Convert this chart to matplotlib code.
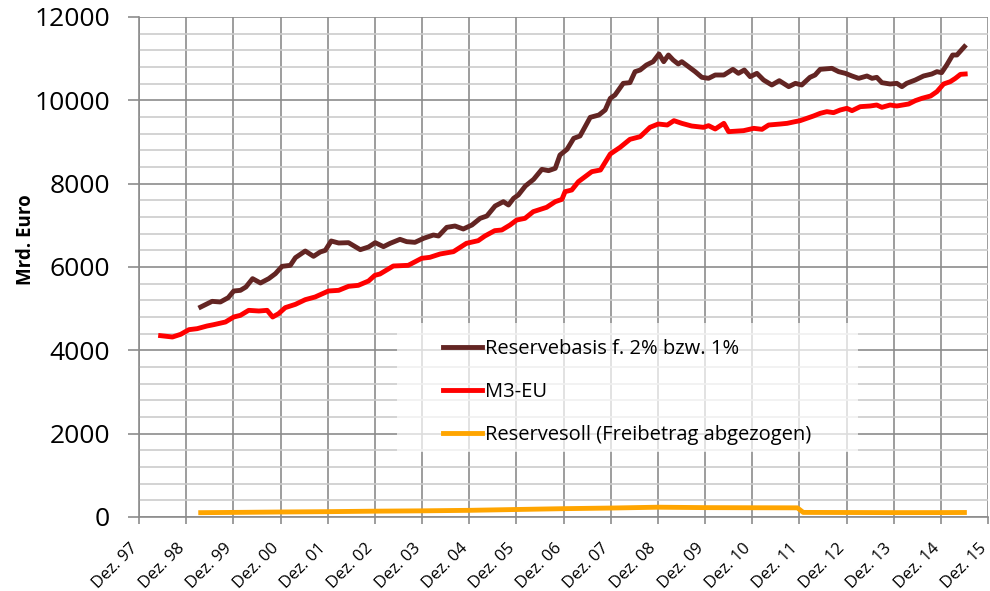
import matplotlib
matplotlib.use('Agg')
import matplotlib.pyplot as plt
from matplotlib.ticker import MultipleLocator
from matplotlib.patches import Rectangle
from matplotlib.transforms import ScaledTranslation

plt.rcParams['font.family'] = ['Open Sans', 'DejaVu Sans']

# months counted from Dez. 97
basis_m = [15.7, 18.6, 20.7, 22.7, 24.1, 25.8, 27.2, 28.9, 30.9, 33, 34.7, 36.4, 38.5, 39.8, 42.3,
           44.4, 46.1, 47.4, 48.9, 50.8, 53.3, 56.3, 58.4, 60.1, 62.2, 63.9, 66.4, 68.1, 70.2, 72.4,
           74.9, 76.2, 78.3, 80.4, 82.5, 84.7, 86.8, 88.5, 90.6, 92.7, 94, 95.3, 96.5, 98.3, 100.4,
           102.5, 104.2, 105.9, 107.1, 108.9, 110.6, 112.2, 114.8, 117, 118.6, 119.9, 121.1, 123.2,
           124.9, 126.2, 127.5, 129.1, 130.8, 132.3, 133.5, 134.7, 135.9, 137.2, 138.1, 139.8, 141.5,
           143.2, 144.9, 146.6, 148.8, 151.1, 152.5, 154, 155.5, 157.2, 158.9, 161, 162.9, 165.3, 167,
           168.6, 170.7, 172, 173.3, 176.3, 178, 179.7, 181.4, 183.1, 185.2, 186.5, 187.7, 189, 191.1,
           192.8, 194.1, 195.3, 197.5, 199.6, 201.7, 203, 204.2, 205.5, 207, 208.1, 210]
basis_v = [5040, 5176, 5160, 5264, 5424, 5440, 5520, 5720, 5616, 5720, 5840, 6016, 6040, 6224, 6384,
           6256, 6360, 6400, 6624, 6576, 6584, 6416, 6480, 6584, 6488, 6568, 6664, 6608, 6592, 6688,
           6768, 6744, 6952, 6984, 6912, 7008, 7168, 7224, 7464, 7568, 7488, 7648, 7728, 7944, 8104,
           8344, 8312, 8368, 8688, 8824, 9088, 9144, 9592, 9648, 9768, 10048, 10128, 10408,
           10424, 10688, 10728, 10848, 10928, 11112, 10928, 11088, 10968, 10872, 10928, 10808, 10688,
           10552, 10528, 10608, 10608, 10744, 10648, 10728, 10568, 10648, 10488, 10368, 10472, 10328, 10408,
           10368, 10552, 10608, 10744, 10768, 10688, 10648, 10584, 10528, 10584, 10528, 10552, 10424, 10392,
           10408, 10328, 10408, 10488, 10584, 10632, 10688, 10664, 10848, 11088, 11088, 11288]

m3_m = [5.5, 8.5, 10.6, 12.7, 14.8, 17.3, 19, 22, 24.1, 25.8, 27.9, 30.5, 32.6, 34, 35.5, 37.2, 39.8,
        42.3, 44.8, 48.2, 50.8, 53.3, 55.8, 58.4, 60, 61.3, 64.7, 68.5, 71.9, 74, 76.6, 80, 83.3, 86.3,
        88, 90.5, 92.3, 94.4, 96.1, 98.2, 100.3, 103.7, 105.9, 107.6, 108.4, 110.1, 111.8, 115.2, 117.4,
        119.9, 122.4, 124.9, 127.5, 130, 132.1, 134.4, 136.1, 138.1, 140.6, 143.6, 144.9, 146.6, 148.8,
        150, 153.8, 156.4, 158.5, 160.2, 163.2, 164.9, 166.9, 168.2, 169.9, 171.6, 173.3, 175, 176.7,
        178.4, 180.1, 181.4, 183.5, 186, 187.7, 189, 191.1, 192.8, 195.8, 197.5, 199.2, 201.4, 203,
        204.7, 206.4, 207.7, 209, 210.2]
m3_v = [4352, 4320, 4384, 4496, 4520, 4584, 4616, 4680, 4800, 4840, 4960, 4944, 4960, 4800, 4880, 5024, 5104,
        5216, 5280, 5424, 5440, 5536, 5560, 5664, 5800, 5832, 6024, 6040, 6208, 6232, 6312, 6368, 6568, 6632,
        6744, 6872, 6888, 7008, 7128, 7168, 7328, 7432, 7568, 7624, 7808, 7848, 8048, 8288, 8328,
        8712, 8872, 9064, 9128, 9352, 9432, 9408, 9512, 9448, 9384, 9352, 9392, 9312, 9448,
        9248, 9272, 9328, 9304, 9408, 9432, 9448, 9488, 9512, 9568, 9624, 9688, 9728, 9704,
        9768, 9808, 9752, 9848, 9864, 9888, 9832, 9888, 9864, 9912, 9992, 10048, 10104, 10208,
        10392, 10448, 10528, 10624, 10632]

soll_m = [15.7, 24, 36, 48, 60, 72, 84, 96, 108, 120, 132, 144, 156, 167.5, 169, 180, 192, 204, 210]
soll_v = [104, 110, 120, 128, 140, 148, 160, 180, 200, 215, 235, 225, 222, 220, 110, 108, 105, 106, 108]

tick_labels = ['Dez. %02d' % (y % 100) for y in range(97, 116)]

fig = plt.figure(figsize=(9.9, 5.91), dpi=100)
ax = fig.add_axes([139/990, 1 - 517/591, 849/990, 500/591])

ax.plot(basis_m, basis_v, color='#632523', lw=3.5, label='Reservebasis f. 2% bzw. 1%', zorder=3)
ax.plot(m3_m, m3_v, color='#ff0000', lw=3.5, label='M3-EU', zorder=3)
ax.plot(soll_m, soll_v, color='#ffa500', lw=3.5, label='Reservesoll (Freibetrag abgezogen)', zorder=3)

ax.set_xlim(0, 216)
ax.set_ylim(0, 12000)
ax.set_xticks(range(0, 217, 12))
ax.set_xticklabels(tick_labels, rotation=45, ha='right', va='center',
                   rotation_mode='anchor', fontsize=12)

ax.yaxis.set_major_locator(MultipleLocator(2000))
ax.yaxis.set_minor_locator(MultipleLocator(400))
ax.tick_params(axis='y', which='major', labelsize=19, length=8, color='#8c8c8c', width=1.2, pad=13)
ax.tick_params(axis='y', which='minor', length=0)
ax.tick_params(axis='x', length=5, color='#8c8c8c', width=1.2, pad=16)

# nudge the rotated labels a bit to the left (after tick_params, which resets transforms)
shift = ScaledTranslation(-4/100, 0, fig.dpi_scale_trans)
for lab in ax.get_xticklabels():
    lab.set_transform(lab.get_transform() + shift)

ax.grid(True, which='major', axis='both', color='#8c8c8c', lw=1.2, zorder=0)
ax.grid(True, which='minor', axis='y', color='#cccccc', lw=1.2, zorder=0)
for s in ['top', 'right']:
    ax.spines[s].set_visible(False)
for s in ['left', 'bottom']:
    ax.spines[s].set_color('#8c8c8c')
    ax.spines[s].set_linewidth(1.2)

ax.set_ylabel('Mrd. Euro', fontsize=13.5, fontweight='bold')
ax.yaxis.set_label_coords(-0.121, 0.554)

# legend background box
ax.add_patch(Rectangle((0.304, 0.13), 0.543, 0.258, transform=ax.transAxes,
                       facecolor='white', alpha=0.7, edgecolor='none', zorder=4))
leg = ax.legend(loc='upper left', bbox_to_anchor=(0.358, 0.356), fontsize=14.5,
                frameon=False, handlelength=1.95, handletextpad=0.15,
                labelspacing=1.15, borderpad=0, borderaxespad=0)
leg.set_zorder(5)

fig.savefig('out.png', dpi=100)
